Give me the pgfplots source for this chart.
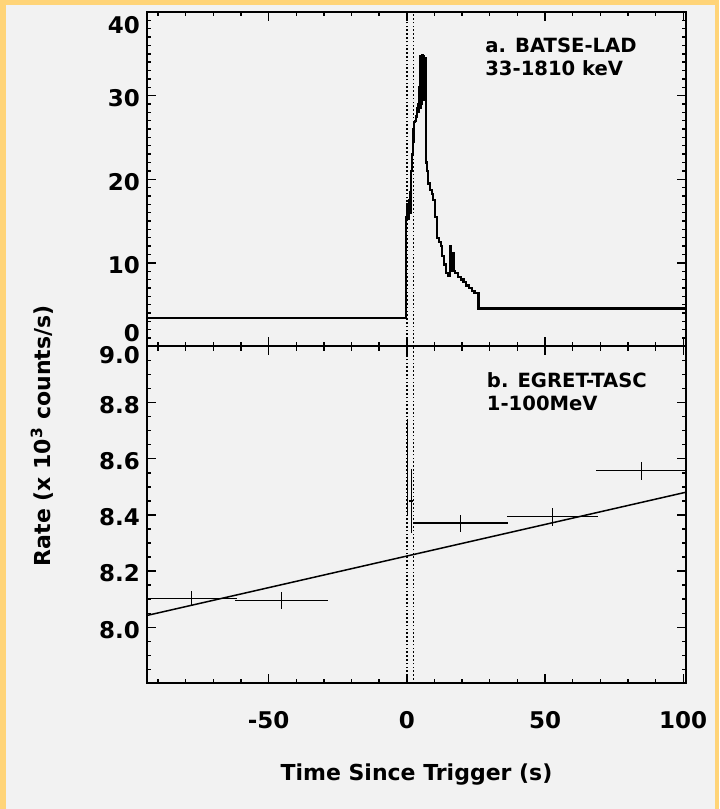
\documentclass[border=0pt]{standalone}
\usepackage{pgfplots}
\usepackage{pgfplotstable}
\pgfplotsset{compat=1.18}
\usepackage{fontspec}
\setmainfont{DejaVu Sans}
\definecolor{frameC}{RGB}{255,212,120}
\definecolor{bgC}{RGB}{242,242,242}

\pgfplotstableread{
x y
-94 3.45
-0.3 15.5
0.2 17.0
0.5 15.3
0.8 17.5
1.0 16.0
1.3 18.5
1.5 21.0
1.8 23.0
2.1 24.5
2.4 26.0
2.7 26.8
3.0 27.0
3.3 27.5
3.6 28.5
3.9 28.0
4.2 29.0
4.5 31.0
4.7 34.7
4.9 28.5
5.1 33.0
5.3 29.0
5.5 34.8
5.7 30.0
5.9 32.0
6.1 34.7
6.3 29.5
6.5 34.5
6.8 22.0
7.3 21.0
7.8 19.5
8.3 18.7
9.0 18.2
9.5 17.5
10.3 15.5
10.8 13.0
11.5 12.5
12.3 12.0
12.8 10.8
13.5 9.8
14.3 8.8
15.0 8.5
15.6 12.0
16.0 9.0
16.5 11.2
17.0 9.0
17.5 8.8
18.5 8.3
19.5 8.0
20.5 7.7
21.5 7.3
22.5 7.0
23.5 6.6
24.5 6.4
25.9 4.55
101 4.55
}\batse

\pgfplotstableread{
x y ex ey
-77.8 8.101 16.4 0.027
-45.3 8.096 16.9 0.030
0.2 8.57 0.25 0.17
1.6 8.45 0.8 0.115
19.5 8.371 17.0 0.030
52.7 8.394 16.6 0.032
85.0 8.557 16.6 0.031
}\egret

\begin{document}
\begin{tikzpicture}
\fill[frameC] (0,0) rectangle (359.5pt,404.5pt);
\fill[bgC] (3pt,0) rectangle (357.5pt,402pt);
\useasboundingbox (0,0) rectangle (359.5pt,404.5pt);
\pgfplotsset{
  panel/.style={
    scale only axis,
    width=269.5pt,
    xmin=-94, xmax=101,
    axis line style={line width=1pt},
    every tick/.style={black, line width=0.7pt},
    major tick length=4.5pt,
    minor tick length=2.2pt,
    tick align=inside,
    xtick={-50,0,50,100},
    minor xtick={-90,-80,-70,-60,-40,-30,-20,-10,10,20,30,40,60,70,80,90},
    tick label style={font=\fontsize{11.5}{13}\selectfont\bfseries},
    yticklabel style={anchor=base east, yshift=-5.4pt},
    xticklabel style={anchor=base, yshift=-22.5pt},
  },
  dotl/.style={black, line width=0.9pt, dash pattern=on 0.8pt off 1.1pt},
}
% top panel
\begin{axis}[panel,
  at={(73.5pt,231.25pt)}, anchor=south west,
  height=167.25pt,
  ymin=0, ymax=40,
  ytick={0,10,20,30,40},
  yticklabels={\raisebox{8pt}{0},10,20,30,\raisebox{-5.3pt}{40}},
  minor y tick num=9,
  xticklabels={},
]
\addplot[black, line width=1.1pt, const plot] table[x=x,y=y] {\batse};
\addplot[dotl] coordinates {(0,0) (0,40)};
\addplot[dotl] coordinates {(2.4,0) (2.4,40)};
\node[anchor=north west, align=left, inner sep=0pt, font=\fontsize{9.8}{11.5}\selectfont\bfseries]
  at (axis description cs:0.627,0.925) {a. BATSE-LAD\\33-1810 keV};
\end{axis}
% bottom panel
\begin{axis}[panel,
  at={(73.5pt,62.8pt)}, anchor=south west,
  height=168.45pt,
  ymin=7.8, ymax=9.0,
  ytick={8.0,8.2,8.4,8.6,8.8,9.0},
  yticklabels={8.0,8.2,8.4,8.6,8.8,\raisebox{-3pt}{9.0}},
  minor ytick={7.85,7.9,7.95,8.05,8.1,8.15,8.25,8.3,8.35,8.45,8.5,8.55,8.65,8.7,8.75,8.85,8.9,8.95},
  xticklabels={-50,0,50,100},
  xlabel={Time Since Trigger (s)},
  ylabel={Rate (x 10\textsuperscript{3} counts/s)},
  every axis x label/.style={at={(axis description cs:0.5,0)}, anchor=center, yshift=-45.8pt, font=\fontsize{11}{13}\selectfont\bfseries},
  every axis y label/.style={at={(axis description cs:-0.195,0.735)}, rotate=90, anchor=center, font=\fontsize{11}{13}\selectfont\bfseries},
]
\addplot[black, line width=0.75pt] coordinates {(-94,8.042) (101,8.481)};
\addplot[only marks, mark=*, mark size=0pt, mark options={draw=none, fill=none},
  error bars/.cd, x dir=both, x explicit, y dir=both, y explicit,
  error mark=none, error bar style={draw=black, solid, line width=0.6pt}]
  table[x=x, y=y, x error=ex, y error=ey] {\egret};
\addplot[dotl] coordinates {(0,7.8) (0,9.0)};
\addplot[dotl] coordinates {(2.4,7.8) (2.4,9.0)};
\node[anchor=north west, align=left, inner sep=0pt, font=\fontsize{9.8}{11.5}\selectfont\bfseries]
  at (axis description cs:0.630,0.925) {b. EGRET-TASC\\1-100MeV};
\end{axis}
\end{tikzpicture}
\end{document}
